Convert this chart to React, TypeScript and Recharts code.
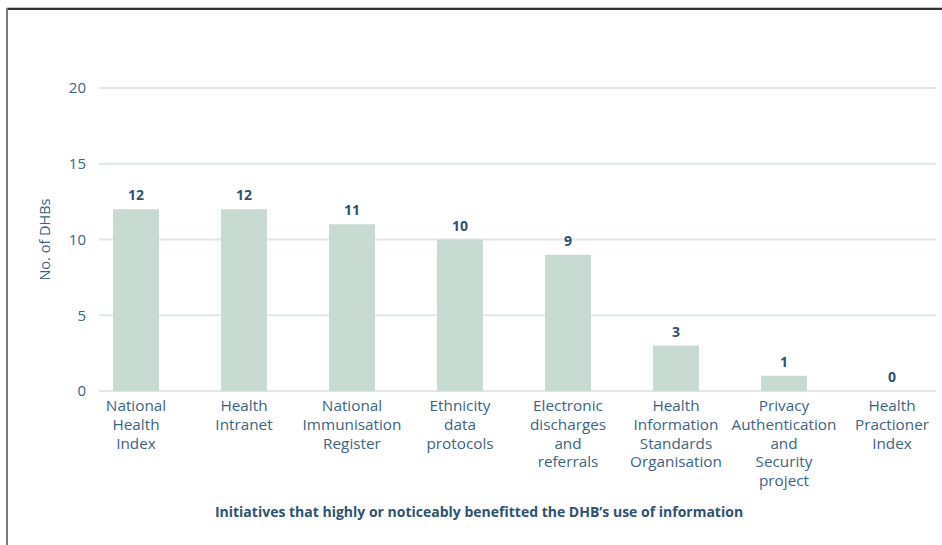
import { Bar, CartesianGrid, ComposedChart, LabelList, Line, XAxis, YAxis } from 'recharts'

const initiatives = [
  'National\nHealth\nIndex',
  'Health\nIntranet',
  'National\nImmunisation\nRegister',
  'Ethnicity\ndata\nprotocols',
  'Electronic\ndischarges\nand\nreferrals',
  'Health\nInformation\nStandards\nOrganisation',
  'Privacy\nAuthentication\nand\nSecurity\nproject',
  'Health\nPractioner\nIndex',
]
const dhbCounts = [12, 12, 11, 10, 9, 3, 1, 0]
const yTicks = [0, 5, 10, 15, 20]

const data = initiatives.map((name, i) => ({ name, count: dhbCounts[i] }))

const FONT = '"Open Sans", sans-serif'
const TEXT = '#3d6482'

function XTick(props: any) {
  const { x, y, payload } = props
  const lines = String(payload.value).split('\n')
  return (
    <text x={x} y={y} textAnchor="middle" fill={TEXT} fontSize={15.3} fontFamily={FONT}>
      {lines.map((l, i) => (
        <tspan key={i} x={x} dy={i === 0 ? 20 : 18.8}>
          {l}
        </tspan>
      ))}
    </text>
  )
}

function GridLine(props: any) {
  const { x1, x2, y1, y2 } = props
  return <line x1={x1 + 17} x2={x2 - 10} y1={y1} y2={y2} stroke="#dde9e4" strokeWidth={2} />
}

export default function App() {
  return (
    <div
      style={{
        position: 'fixed',
        left: 0,
        top: 0,
        width: 942,
        height: 545,
        overflow: 'hidden',
        background: '#fff',
        fontFamily: FONT,
      }}
    >
      <div style={{ position: 'absolute', left: 7, top: 7, right: 0, height: 1, background: '#c4c4c4' }} />
      <div style={{ position: 'absolute', left: 7, top: 8, right: 0, height: 2, background: '#333' }} />
      <div style={{ position: 'absolute', left: 6, top: 8, width: 2, bottom: 0, background: '#7a7a7a' }} />
      <div style={{ position: 'absolute', left: 0, top: 0 }}>
        <ComposedChart
          width={950}
          height={545}
          data={data}
          margin={{ top: 88, right: 4, bottom: 124, left: 0 }}
          barSize={46}
        >
          <CartesianGrid vertical={false} horizontal={(p: any) => <GridLine key={p.key} {...p} />} />
          <XAxis
            dataKey="name"
            interval={0}
            tickLine={false}
            axisLine={false}
            tickSize={0}
            tickMargin={0}
            height={30}
            tick={<XTick />}
          />
          <YAxis
            width={82}
            domain={[0, 20]}
            ticks={yTicks}
            tickLine={false}
            axisLine={false}
            tickSize={0}
            tickMargin={0}
            tick={{ fill: TEXT, fontSize: 15, fontFamily: FONT, dx: 4 }}
            label={{
              value: 'No. of DHBs',
              angle: -90,
              position: 'center',
              dx: 4,
              fill: TEXT,
              fontSize: 14.5,
              fontFamily: FONT,
            }}
          />
          <Bar dataKey="count" fill="#c8dbd2" isAnimationActive={false} />
          <Line
            dataKey="count"
            stroke="none"
            dot={false}
            activeDot={false}
            isAnimationActive={false}
          >
            <LabelList
              dataKey="count"
              position="top"
              offset={9}
              fill="#2f5270"
              fontSize={14}
              fontWeight={700}
              fontFamily={FONT}
            />
          </Line>
        </ComposedChart>
      </div>
      <div
        style={{
          position: 'absolute',
          left: 0,
          width: 958,
          top: 502,
          textAlign: 'center',
          fontSize: 14,
          fontWeight: 700,
          color: '#2f5270',
        }}
      >
        Initiatives that highly or noticeably benefitted the DHB’s use of information
      </div>
    </div>
  )
}
